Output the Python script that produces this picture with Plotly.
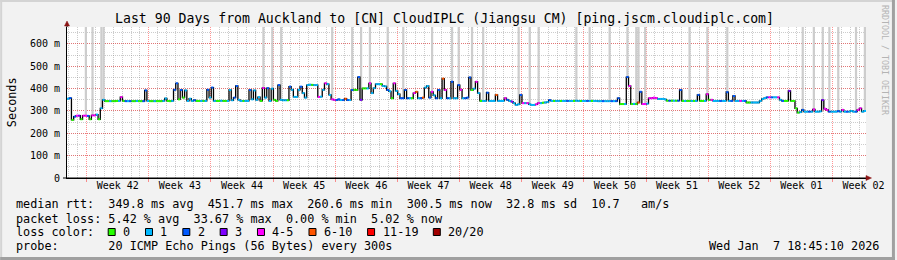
import numpy as np
import pandas as pd
import plotly.graph_objects as go

TITLE = "Last 90 Days from Auckland to [CN] CloudIPLC (Jiangsu CM) [ping.jscm.cloudiplc.com]"
START = "2025-10-09 18:45:10"
END = "2026-01-07 18:45:10"
STEP_HOURS = 6

# median rtt (ms), one value per 6-hour step
median_ms = [
    355,358,260,275,279,279,263,279,279,278,263,280,280,284,263,312,350,344,344,344,344,344,345,345,362,345,344,344,
    344,344,344,345,344,344,344,392,345,344,344,344,344,344,344,345,356,345,344,345,395,424,352,394,360,392,345,355,
    345,348,345,345,345,345,345,395,360,405,345,345,345,346,345,345,345,394,348,360,412,350,345,345,345,345,394,352,
    392,350,362,345,403,360,402,345,400,350,345,416,350,348,348,348,409,395,363,363,395,409,380,360,416,418,417,416,
    416,363,364,395,424,420,372,352,350,349,352,349,349,355,349,349,394,395,394,452,350,401,401,401,424,380,402,420,
    420,420,412,410,394,388,357,424,390,375,357,357,394,357,357,357,380,386,357,357,360,405,412,360,386,370,357,394,
    357,445,394,357,357,431,357,357,416,395,357,357,360,450,394,400,431,380,345,345,345,382,345,345,345,372,345,345,
    345,357,350,345,342,335,327,330,372,335,335,335,330,327,327,330,335,335,337,338,340,349,345,345,345,345,345,345,
    345,345,345,345,345,346,345,345,345,345,345,345,345,345,345,344,344,344,344,344,344,344,344,344,357,331,331,331,
    452,412,331,332,331,338,386,331,331,333,357,357,360,358,354,354,354,352,346,346,346,346,346,346,394,345,345,345,
    345,345,345,345,372,345,345,345,375,350,350,345,345,345,345,345,345,384,345,345,367,345,345,345,345,345,338,338,
    338,338,338,338,345,354,358,361,361,361,361,361,361,350,345,345,345,390,345,345,312,293,295,305,297,297,297,297,
    307,297,297,298,349,310,305,297,297,297,297,299,297,305,297,297,297,300,297,297,305,312,297,300,
]

# loss class per step (index into loss_labels)
loss_class = [
    1,2,0,2,4,3,0,4,4,2,0,4,4,1,0,1,1,0,0,1,0,0,0,1,4,0,2,1,
    2,0,0,1,0,0,2,2,1,0,0,1,0,0,0,1,1,0,0,1,2,2,0,2,0,1,1,1,
    1,2,0,0,1,0,1,2,1,2,1,0,0,1,0,0,1,1,1,2,2,1,1,0,1,1,2,1,
    1,1,1,0,4,1,2,1,1,0,0,2,1,1,1,0,2,1,1,1,1,2,1,1,1,1,0,1,
    1,4,1,1,4,1,1,4,4,2,2,1,2,5,2,1,2,0,0,2,3,0,0,1,4,1,1,1,
    1,0,1,1,2,1,0,4,1,1,2,2,2,2,1,0,4,5,1,2,5,1,1,2,4,1,2,2,
    1,5,4,2,1,2,1,1,2,4,1,2,2,2,0,1,4,1,0,1,1,2,1,1,1,5,1,1,
    1,4,2,1,3,1,1,1,2,4,1,4,1,1,1,4,4,1,0,1,1,2,1,0,1,1,0,1,
    1,2,1,1,0,1,1,0,1,1,2,1,0,1,1,1,1,2,1,1,1,2,1,2,2,0,0,1,
    2,4,0,1,0,5,2,4,4,1,4,4,4,4,1,1,1,1,0,2,0,1,0,2,2,0,1,0,
    0,1,0,1,2,0,0,1,4,0,4,1,1,1,2,1,1,2,1,2,2,1,1,4,1,2,0,0,
    1,1,1,1,1,1,1,2,4,2,1,1,4,1,2,0,0,3,0,0,0,0,1,2,1,1,2,1,
    4,1,1,1,3,4,4,2,1,1,1,2,1,4,1,2,1,1,1,2,4,4,1,1,
]

# steps where the smoke reaches beyond the top of the graph
smoke_top_steps = [8, 11, 15, 16, 88, 92, 96, 119, 128, 132, 136, 144, 151, 164, 173, 176,
                   182, 187, 203, 208, 212, 229, 235, 244, 252, 256, 257, 260, 280, 288, 297,
                   331, 336, 340, 343, 347, 355, 359]

loss_labels = ["0", "1", "2", "3", "4-5", "6-10", "11-19", "20/20"]
loss_colors = ["#26ff00", "#00b8ff", "#0059ff", "#7e00ff", "#ff00ff", "#ff5500", "#ff0000", "#a10000"]

week_labels = ["Week 42", "Week 43", "Week 44", "Week 45", "Week 46", "Week 47", "Week 48",
               "Week 49", "Week 50", "Week 51", "Week 52", "Week 01", "Week 02"]
FIRST_WEEK_MID = "2025-10-15 12:00"
FIRST_SUNDAY = "2025-10-12 00:00"

y_tickvals = [0, 100, 200, 300, 400, 500, 600]
y_ticktext = ["0", "100 m", "200 m", "300 m", "400 m", "500 m", "600 m"]
YMAX = 676

stats_lines = [
    "median rtt:  349.8 ms avg  451.7 ms max  260.6 ms min  300.5 ms now  32.8 ms sd  10.7   am/s",
    "packet loss: 5.42 % avg  33.67 % max  0.00 % min  5.02 % now",
]
loss_title = "loss color:"
probe_text = "probe:       20 ICMP Echo Pings (56 Bytes) every 300s"
stamp_text = "Wed Jan  7 18:45:10 2026"
y_title = "Seconds"
credit = "RRDTOOL / TOBI OETIKER"

# ---------------------------------------------------------------- geometry
W, H = 897, 260
PL, PT, PW, PH = 67, 27, 801, 151
FONT = "DejaVu Sans Mono"
CW = 7.115  # legend char advance


def px(x):
    return (x - PL) / PW


def py(y):
    return (PT + PH - y) / PH


def nb(s):
    return s.replace(" ", "\u00a0")


n = len(median_ms)
t0 = pd.Timestamp(START)
step = pd.Timedelta(hours=STEP_HOURS)
times = [t0 + step * i for i in range(n + 1)]
tstr = [t.strftime("%Y-%m-%d %H:%M:%S") for t in times]

fig = go.Figure()

# smoke bars reaching the top
fig.add_trace(go.Bar(
    x=[(times[i] + step / 2).strftime("%Y-%m-%d %H:%M:%S") for i in smoke_top_steps],
    base=[median_ms[i] for i in smoke_top_steps],
    y=[YMAX - median_ms[i] for i in smoke_top_steps],
    width=[step.total_seconds() * 1000] * len(smoke_top_steps),
    marker=dict(color="#cdcdcd", line=dict(width=0)),
    hoverinfo="skip", showlegend=False,
))

# black step line (vertical edges)
fig.add_trace(go.Scatter(
    x=tstr, y=median_ms + [median_ms[-1]], mode="lines",
    line=dict(color="#000000", width=1.3, shape="hv"),
    hoverinfo="skip", showlegend=False,
))

# coloured horizontal segments by loss
for c, col in enumerate(loss_colors):
    xs, ys = [], []
    for i in range(n):
        if loss_class[i] == c:
            xs += [tstr[i], tstr[i + 1], None]
            ys += [median_ms[i], median_ms[i], None]
    if xs:
        fig.add_trace(go.Scatter(
            x=xs, y=ys, mode="lines", line=dict(color=col, width=2),
            hoverinfo="skip", showlegend=False,
        ))

# invisible trace to carry the label axis
fig.add_trace(go.Scatter(x=[START], y=[0], xaxis="x2", mode="markers",
                         marker=dict(opacity=0), hoverinfo="skip", showlegend=False))

week_mid = [(pd.Timestamp(FIRST_WEEK_MID) + pd.Timedelta(days=7 * k)).strftime("%Y-%m-%d %H:%M:%S")
            for k in range(len(week_labels))]

MAJOR = "rgba(255,0,0,0.42)"
MINOR = "rgba(120,120,120,0.38)"
DASH = "1px,1px"

fig.update_layout(
    width=W, height=H, autosize=False,
    margin=dict(l=PL, r=W - PL - PW, t=PT, b=H - PT - PH, pad=0),
    paper_bgcolor="#f2f2f2", plot_bgcolor="#ffffff",
    font=dict(family=FONT, size=10, color="#000000"),
    barmode="overlay", showlegend=False,
    xaxis=dict(
        type="date", range=[START, END], tickmode="linear", tick0=FIRST_SUNDAY,
        dtick=7 * 86400000, showticklabels=False, showgrid=True,
        gridcolor=MAJOR, griddash=DASH, gridwidth=1,
        ticks="outside", ticklen=3, tickcolor=MAJOR, tickwidth=1,
        minor=dict(tick0=FIRST_SUNDAY, dtick=86400000, showgrid=True,
                   gridcolor=MINOR, griddash=DASH, gridwidth=1),
        showline=True, linecolor="#000000", linewidth=1, zeroline=False, fixedrange=True,
    ),
    xaxis2=dict(
        type="date", range=[START, END], overlaying="x", anchor="y", side="bottom",
        tickmode="array", tickvals=week_mid, ticktext=week_labels,
        showgrid=False, ticks="", showline=False, zeroline=False,
        tickfont=dict(family=FONT, size=10, color="#000000"), fixedrange=True,
    ),
    yaxis=dict(
        range=[0, YMAX], tickmode="array", tickvals=y_tickvals, ticktext=y_ticktext,
        showgrid=True, gridcolor=MAJOR, griddash=DASH, gridwidth=1,
        minor=dict(tick0=0, dtick=50, showgrid=True, gridcolor=MINOR, griddash=DASH, gridwidth=1),
        ticks="", showline=True, linecolor="#000000", linewidth=1, zeroline=False,
        tickfont=dict(family=FONT, size=10, color="#000000"), fixedrange=True,
        ticklabelstandoff=4,
    ),
)

ann = []
ann.append(dict(text=nb(TITLE), x=px(445.5), y=py(18.5), xanchor="center", yanchor="middle",
                font=dict(family=FONT, size=13.2, color="#000000")))
ann.append(dict(text=y_title, x=px(11.5), y=py(102.5), xanchor="center", yanchor="middle",
                textangle=-90, font=dict(family=FONT, size=11.8, color="#000000")))
ann.append(dict(text=nb(credit), x=px(887), y=py(60), xanchor="center", yanchor="middle",
                textangle=90, font=dict(family=FONT, size=8.3, color="#b4b4b4")))
line_y = [204.5, 218.5, 232, 246]
for k, s in enumerate(stats_lines):
    ann.append(dict(text=nb(s), x=px(16), y=py(line_y[k]), xanchor="left", yanchor="middle",
                    font=dict(family=FONT, size=11.8, color="#000000")))
ann.append(dict(text=nb(loss_title), x=px(16), y=py(line_y[2]), xanchor="left", yanchor="middle",
                font=dict(family=FONT, size=11.8, color="#000000")))
ann.append(dict(text=nb(probe_text), x=px(16), y=py(line_y[3]), xanchor="left", yanchor="middle",
                font=dict(family=FONT, size=11.8, color="#000000")))
ann.append(dict(text=nb(stamp_text), x=px(881), y=py(line_y[3]), xanchor="right", yanchor="middle",
                font=dict(family=FONT, size=11.8, color="#000000")))

shapes = []
bx = 16 + 13 * CW - 0.2
for lab, col in zip(loss_labels, loss_colors):
    shapes.append(dict(type="rect", xref="paper", yref="paper",
                       x0=px(bx), x1=px(bx + 7), y0=py(228.5), y1=py(235.5),
                       fillcolor=col, line=dict(color="#000000", width=1)))
    ann.append(dict(text=nb(lab), x=px(bx + 15), y=py(line_y[2]), xanchor="left", yanchor="middle",
                    font=dict(family=FONT, size=11.8, color="#000000")))
    bx += 15 + len(lab) * CW + 15.3

for a in ann:
    a.update(xref="paper", yref="paper", showarrow=False, borderpad=0, borderwidth=0)

ARROW = "#8b1414"
# y axis extension + arrow
shapes.append(dict(type="line", xref="paper", yref="paper", x0=px(PL), x1=px(PL),
                   y0=py(PT), y1=py(24), line=dict(color="#000000", width=1)))
shapes.append(dict(type="path", xref="paper", yref="paper",
                   path=f"M {px(64.5)},{py(26)} L {px(67)},{py(21)} L {px(69.5)},{py(26)} Z",
                   fillcolor=ARROW, line=dict(color=ARROW, width=0.5)))
# x axis extension + arrow
shapes.append(dict(type="line", xref="paper", yref="paper", x0=px(63), x1=px(870),
                   y0=py(178), y1=py(178), line=dict(color="#000000", width=1)))
shapes.append(dict(type="path", xref="paper", yref="paper",
                   path=f"M {px(868)},{py(175.5)} L {px(873.5)},{py(178)} L {px(868)},{py(180.5)} Z",
                   fillcolor=ARROW, line=dict(color=ARROW, width=0.5)))
# frame
shapes.append(dict(type="rect", xref="paper", yref="paper", x0=px(0), x1=px(W), y0=py(0), y1=py(2),
                   fillcolor="#d4d4d4", line=dict(width=0), layer="above"))
shapes.append(dict(type="rect", xref="paper", yref="paper", x0=px(0), x1=px(2), y0=py(0), y1=py(H),
                   fillcolor="#d4d4d4", line=dict(width=0), layer="above"))
shapes.append(dict(type="rect", xref="paper", yref="paper", x0=px(W - 3), x1=px(W), y0=py(0), y1=py(H),
                   fillcolor="#a0a0a0", line=dict(width=0), layer="above"))
shapes.append(dict(type="rect", xref="paper", yref="paper", x0=px(0), x1=px(W), y0=py(H - 3), y1=py(H),
                   fillcolor="#a0a0a0", line=dict(width=0), layer="above"))

fig.update_layout(annotations=ann, shapes=shapes)

fig.write_html("out.html")
